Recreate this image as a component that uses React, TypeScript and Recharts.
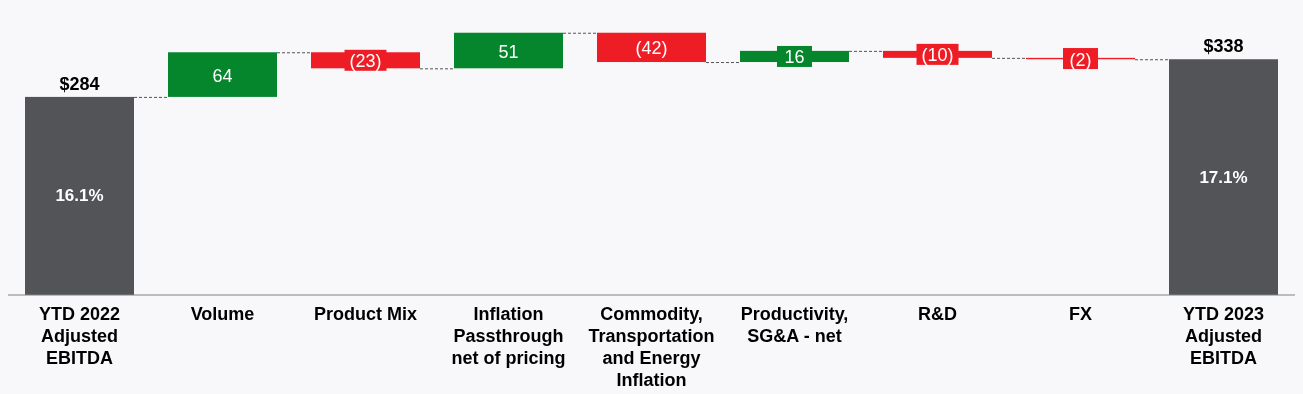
import React from "react";
import { Bar, BarChart, Cell, LabelList, XAxis, YAxis } from "recharts";

// Waterfall: YTD 2022 -> YTD 2023 Adjusted EBITDA bridge ($M).
const categoryLines: string[][] = [
  ["YTD 2022", "Adjusted", "EBITDA"],
  ["Volume"],
  ["Product Mix"],
  ["Inflation", "Passthrough", "net of pricing"],
  ["Commodity,", "Transportation", "and Energy", "Inflation"],
  ["Productivity,", "SG&A - net"],
  ["R&D"],
  ["FX"],
  ["YTD 2023", "Adjusted", "EBITDA"],
];
const values = [284, 64, -23, 51, -42, 16, -10, -2, 338];
const isTotal = [true, false, false, false, false, false, false, false, true];
const marginLabels = ["16.1%", "", "", "", "", "", "", "", "17.1%"];

const GRAY = "#525457";
const GREEN = "#05862c";
const RED = "#ee1c24";
const FONT = "'Liberation Sans', Arial, sans-serif";
const CAT_GAP = 17; // px each side of a bar

type Row = { name: string; base: number; amount: number; delta: number; total: boolean; pct: string };

function buildRows(): Row[] {
  let running = 0;
  return values.map((v, i) => {
    if (isTotal[i]) {
      running = v;
      return { name: categoryLines[i].join(" "), base: 0, amount: v, delta: v, total: true, pct: marginLabels[i] };
    }
    const start = running;
    running = start + v;
    return {
      name: categoryLines[i].join(" "),
      base: Math.min(start, running),
      amount: Math.abs(v),
      delta: v,
      total: false,
      pct: "",
    };
  });
}

const rows = buildRows();

const colorFor = (r: Row) => (r.total ? GRAY : r.delta >= 0 ? GREEN : RED);

function StepShape(props: any) {
  const { x, y, width, height, index } = props;
  const r = rows[index];
  const endY = r.total || r.delta >= 0 ? y : y + height;
  const last = index === rows.length - 1;
  return (
    <g>
      <rect x={x} y={y} width={width} height={height} fill={colorFor(r)} />
      {!last && (
        <line
          x1={x + width}
          x2={x + width + CAT_GAP * 2}
          y1={endY + 0.5}
          y2={endY + 0.5}
          stroke="#555"
          strokeWidth={1}
          strokeDasharray="3 2"
        />
      )}
    </g>
  );
}

function StepLabel(props: any) {
  const { x, y, width, height, index } = props;
  const r = rows[index];
  const cx = x + width / 2;
  if (r.total) {
    return (
      <g fontFamily={FONT} fontWeight="bold">
        <text x={cx} y={y - 7} textAnchor="middle" fontSize={18} fill="#000">
          ${r.amount}
        </text>
        <text x={cx} y={y + height / 2} textAnchor="middle" dominantBaseline="central" fontSize={17} fill="#fff">
          {r.pct}
        </text>
      </g>
    );
  }
  const txt = r.delta >= 0 ? String(r.delta) : `(${Math.abs(r.delta)})`;
  const tw = [...txt].reduce((s, c) => s + (c === "(" || c === ")" ? 6 : 10), 0);
  const bw = Math.max(tw + 10, 35);
  const cy = y + height / 2;
  return (
    <g fontFamily={FONT}>
      <rect x={cx - bw / 2} y={cy - 10.5} width={bw} height={21} fill={colorFor(r)} />
      <text x={cx} y={cy + 1} textAnchor="middle" dominantBaseline="central" fontSize={18} fill="#fff">
        {txt}
      </text>
    </g>
  );
}

function CategoryTick(props: any) {
  const { x, y, payload } = props;
  const lines = categoryLines[payload.index] ?? [];
  return (
    <text x={x} y={y} textAnchor="middle" fontFamily={FONT} fontWeight="bold" fontSize={18} fill="#000">
      {lines.map((l, i) => (
        <tspan key={i} x={x} y={y + 17 + i * 22}>
          {l}
        </tspan>
      ))}
    </text>
  );
}

export default function App() {
  return (
    <>
      <div style={{ position: "fixed", inset: 0, background: "#f8f8fa", zIndex: -1 }} />
      <div style={{ width: 1287, height: 386 }}>
        <BarChart
          width={1287}
          height={386}
          data={rows}
          margin={{ top: 8, right: 0, bottom: 0, left: 0 }}
          barCategoryGap={CAT_GAP}
        >
          <XAxis
            dataKey="name"
            interval={0}
            tickLine={false}
            axisLine={{ stroke: "#808080", strokeWidth: 1 }}
            height={99}
            tick={<CategoryTick />}
          />
          <YAxis hide domain={[0, 400]} />
          <Bar dataKey="base" stackId="w" fill="transparent" isAnimationActive={false} />
          <Bar dataKey="amount" stackId="w" shape={<StepShape />} isAnimationActive={false}>
            {rows.map((r, i) => (
              <Cell key={i} fill={colorFor(r)} />
            ))}
            <LabelList dataKey="amount" content={<StepLabel />} />
          </Bar>
        </BarChart>
      </div>
    </>
  );
}
